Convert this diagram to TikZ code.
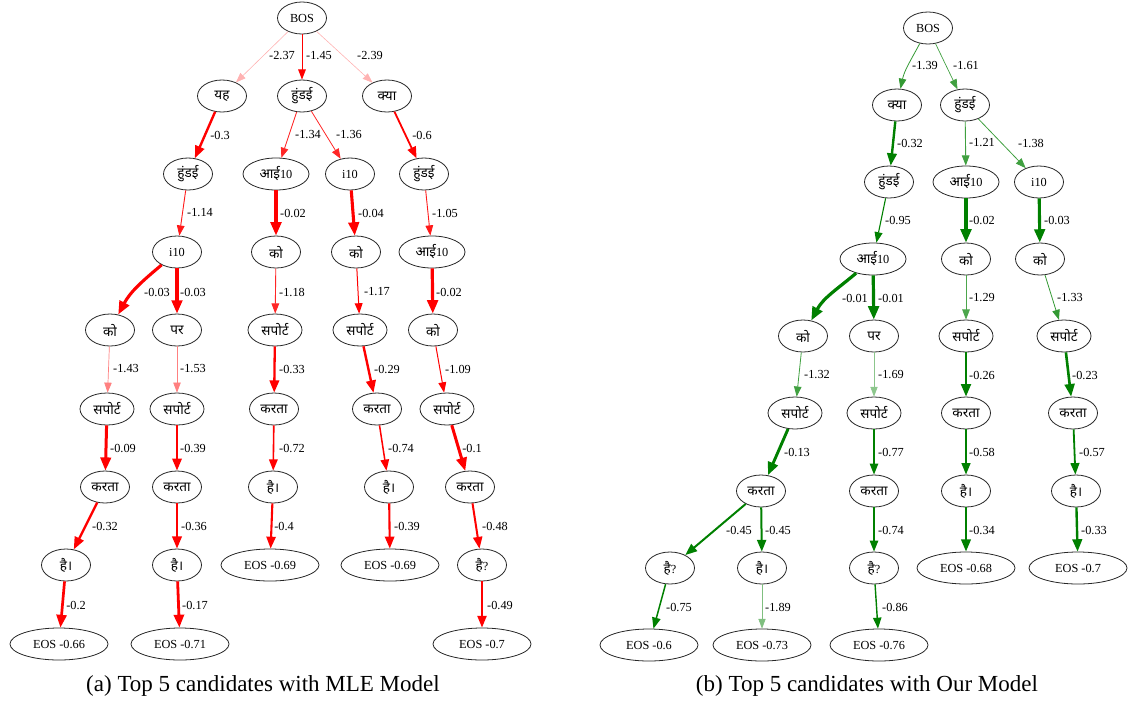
\documentclass[tikz,border=0pt]{standalone}
\usepackage{fontspec}
\setmainfont{Liberation Serif}
\newfontfamily\dvnfont[Script=Devanagari,Scale=1.1]{Noto Sans}
\newcommand\hin[1]{{\dvnfont #1}}
\usetikzlibrary{shapes.geometric,arrows.meta}
\definecolor{gc}{HTML}{008000}
\begin{document}
\begin{tikzpicture}[x=1pt,y=-1pt,
 nd/.style={ellipse, draw=black!85, line width=0.8pt, minimum width=49pt, minimum height=32pt, inner sep=0pt, font=\fontsize{12.3}{14}\selectfont},
 wide/.style={minimum width=66pt},
 sp/.style={minimum width=54pt},
 eos/.style={minimum width=98pt},
 lbl/.style={font=\fontsize{12.3}{14}\selectfont, inner sep=0pt},
 ed/.style 2 args={draw=#2, line width=#1, -{Triangle[length=9pt 1.4, width=6.5pt 1.3]}},
 captext/.style={font=\fontsize{23}{26}\selectfont, inner sep=0pt}]
\useasboundingbox (0,0) rectangle (1129,704);
% ---------------- left tree (MLE) ----------------
\node[nd] (L0) at (302,18) {BOS};
\node[nd] (L1a) at (222,96) {\hin{यह}};
\node[nd] (L1b) at (302,96) {\hin{हुंडई}};
\node[nd] (L1c) at (387,96) {\hin{क्या}};
\node[nd] (L2a) at (188,174) {\hin{हुंडई}};
\node[nd,wide] (L2b) at (276,174) {\hin{आई}10};
\node[nd] (L2c) at (350,174) {i10};
\node[nd] (L2d) at (424,174) {\hin{हुंडई}};
\node[nd] (L3a) at (177,252) {i10};
\node[nd] (L3b) at (276,252) {\hin{को}};
\node[nd] (L3c) at (356,252) {\hin{को}};
\node[nd,wide] (L3d) at (432,252) {\hin{आई}10};
\node[nd] (L4a) at (110,330) {\hin{को}};
\node[nd] (L4b) at (177,330) {\hin{पर}};
\node[nd,sp] (L4c) at (275,330) {\hin{सपोर्ट}};
\node[nd,sp] (L4d) at (360,330) {\hin{सपोर्ट}};
\node[nd] (L4e) at (433,330) {\hin{को}};
\node[nd,sp] (L5a) at (107,409) {\hin{सपोर्ट}};
\node[nd,sp] (L5b) at (177,409) {\hin{सपोर्ट}};
\node[nd] (L5c) at (274,409) {\hin{करता}};
\node[nd] (L5d) at (377,409) {\hin{करता}};
\node[nd,sp] (L5e) at (447,409) {\hin{सपोर्ट}};
\node[nd] (L6a) at (105,487) {\hin{करता}};
\node[nd] (L6b) at (177,487) {\hin{करता}};
\node[nd] (L6c) at (273,487) {\hin{है।}};
\node[nd] (L6d) at (389,487) {\hin{है।}};
\node[nd] (L6e) at (470,487) {\hin{करता}};
\node[nd] (L7a) at (66,565) {\hin{है।}};
\node[nd] (L7b) at (177,565) {\hin{है।}};
\node[nd,eos] (L7c) at (270,565) {EOS -0.69};
\node[nd,eos] (L7d) at (390,565) {EOS -0.69};
\node[nd] (L7e) at (482,565) {\hin{है}?};
\node[nd,eos] (L8a) at (59,644) {EOS -0.66};
\node[nd,eos] (L8b) at (180,644) {EOS -0.71};
\node[nd,eos] (L8c) at (482,644) {EOS -0.7};
% edges
\draw[ed={0.6pt}{red!30}] (L0) -- (L1a);
\draw[ed={0.9pt}{red}] (L0) -- (L1b);
\draw[ed={0.6pt}{red!30}] (L0) -- (L1c);
\draw[ed={2.4pt}{red}] (L1a) -- (L2a);
\draw[ed={0.8pt}{red!85}] (L1b) -- (L2b);
\draw[ed={0.8pt}{red!85}] (L1b) -- (L2c);
\draw[ed={1.8pt}{red}] (L1c) -- (L2d);
\draw[ed={0.9pt}{red!90}] (L2a) -- (L3a);
\draw[ed={3.2pt}{red}] (L2b) -- (L3b);
\draw[ed={3.1pt}{red}] (L2c) -- (L3c);
\draw[ed={0.9pt}{red!90}] (L2d) -- (L3d);
\draw[ed={3.1pt}{red}] (L3a) to[out=-140,in=62] (L4a);
\draw[ed={3.1pt}{red}] (L3a) -- (L4b);
\draw[ed={0.9pt}{red!85}] (L3b) -- (L4c);
\draw[ed={1.0pt}{red}] (L3c) -- (L4d);
\draw[ed={3.2pt}{red}] (L3d) -- (L4e);
\draw[ed={0.7pt}{red!50}] (L4a) -- (L5a);
\draw[ed={0.7pt}{red!50}] (L4b) -- (L5b);
\draw[ed={2.3pt}{red}] (L4c) -- (L5c);
\draw[ed={2.4pt}{red}] (L4d) -- (L5d);
\draw[ed={1.0pt}{red}] (L4e) -- (L5e);
\draw[ed={3.0pt}{red}] (L5a) -- (L6a);
\draw[ed={2.2pt}{red}] (L5b) -- (L6b);
\draw[ed={1.6pt}{red}] (L5c) -- (L6c);
\draw[ed={1.5pt}{red}] (L5d) -- (L6d);
\draw[ed={3.0pt}{red}] (L5e) -- (L6e);
\draw[ed={2.4pt}{red}] (L6a) -- (L7a);
\draw[ed={2.3pt}{red}] (L6b) -- (L7b);
\draw[ed={2.1pt}{red}] (L6c) -- (L7c);
\draw[ed={2.1pt}{red}] (L6d) -- (L7d);
\draw[ed={2.0pt}{red}] (L6e) -- (L7e);
\draw[ed={2.7pt}{red}] (L7a) -- (L8a);
\draw[ed={2.8pt}{red}] (L7b) -- (L8b);
\draw[ed={2.0pt}{red}] (L7e) -- (L8c);
% labels
\node[lbl] (la1) at (282,56) {-2.37};
\node[lbl] (la2) at (319,56) {-1.45};
\node[lbl] (la3) at (370,56) {-2.39};
\node[lbl] (lb1) at (220,135) {-0.3};
\node[lbl] (lb2) at (308,135) {-1.34};
\node[lbl] (lb3) at (349,135) {-1.36};
\node[lbl] (lb4) at (422,135) {-0.6};
\node[lbl] (lc1) at (200,213) {-1.14};
\node[lbl] (lc2) at (293,213) {-0.02};
\node[lbl] (lc3) at (371,213) {-0.04};
\node[lbl] (lc4) at (445,213) {-1.05};
\node[lbl] (ld1) at (157,292) {-0.03};
\node[lbl] (ld2) at (193,292) {-0.03};
\node[lbl] (ld3) at (292,292) {-1.18};
\node[lbl] (ld4) at (377,292) {-1.17};
\node[lbl] (ld5) at (449,292) {-0.02};
\node[lbl] (le1) at (126,369) {-1.43};
\node[lbl] (le2) at (193,369) {-1.53};
\node[lbl] (le3) at (292,369) {-0.33};
\node[lbl] (le4) at (387,369) {-0.29};
\node[lbl] (le5) at (458,369) {-1.09};
\node[lbl] (lf1) at (123,448) {-0.09};
\node[lbl] (lf2) at (193,448) {-0.39};
\node[lbl] (lf3) at (292,448) {-0.72};
\node[lbl] (lf4) at (401,448) {-0.74};
\node[lbl] (lf5) at (472,448) {-0.1};
\node[lbl] (lg1) at (105,526) {-0.32};
\node[lbl] (lg2) at (194,526) {-0.36};
\node[lbl] (lg3) at (284,526) {-0.4};
\node[lbl] (lg4) at (407,526) {-0.39};
\node[lbl] (lg5) at (495,526) {-0.48};
\node[lbl] (lh1) at (76,605) {-0.2};
\node[lbl] (lh2) at (195,605) {-0.17};
\node[lbl] (lh3) at (500,605) {-0.49};
\node[captext] (capa) at (263,686) {(a) Top 5 candidates with MLE Model};
% ---------------- right tree (Our model) ----------------
\node[nd] (R0) at (928,28) {BOS};
\node[nd] (R1a) at (897,105) {\hin{क्या}};
\node[nd] (R1b) at (965,105) {\hin{हुंडई}};
\node[nd] (R2a) at (889,182) {\hin{हुंडई}};
\node[nd,wide] (R2b) at (966,182) {\hin{आई}10};
\node[nd] (R2c) at (1039,182) {i10};
\node[nd,wide] (R3a) at (873,259) {\hin{आई}10};
\node[nd] (R3b) at (966,259) {\hin{को}};
\node[nd] (R3c) at (1040,259) {\hin{को}};
\node[nd] (R4a) at (803,336) {\hin{को}};
\node[nd] (R4b) at (874,336) {\hin{पर}};
\node[nd,sp] (R4c) at (966,336) {\hin{सपोर्ट}};
\node[nd,sp] (R4d) at (1064,336) {\hin{सपोर्ट}};
\node[nd,sp] (R5a) at (795,413) {\hin{सपोर्ट}};
\node[nd,sp] (R5b) at (874,413) {\hin{सपोर्ट}};
\node[nd] (R5c) at (966,413) {\hin{करता}};
\node[nd] (R5d) at (1073,413) {\hin{करता}};
\node[nd] (R6a) at (761,491) {\hin{करता}};
\node[nd] (R6b) at (874,491) {\hin{करता}};
\node[nd] (R6c) at (966,491) {\hin{है।}};
\node[nd] (R6d) at (1076,491) {\hin{है।}};
\node[nd] (R7a) at (670,568) {\hin{है}?};
\node[nd] (R7b) at (762,568) {\hin{है।}};
\node[nd] (R7c) at (874,568) {\hin{है}?};
\node[nd,eos] (R7d) at (966,568) {EOS -0.68};
\node[nd,eos] (R7e) at (1078,568) {EOS -0.7};
\node[nd,eos] (R8a) at (649,645) {EOS -0.6};
\node[nd,eos] (R8b) at (762,645) {EOS -0.73};
\node[nd,eos] (R8c) at (879,645) {EOS -0.76};
% edges
\draw[ed={0.8pt}{gc!80}] (R0) to[out=-118,in=78] (R1a);
\draw[ed={0.7pt}{gc!75}] (R0) -- (R1b);
\draw[ed={2.4pt}{gc}] (R1a) -- (R2a);
\draw[ed={0.9pt}{gc!75}] (R1b) -- (R2b);
\draw[ed={0.8pt}{gc!75}] (R1b) -- (R2c);
\draw[ed={1.1pt}{gc}] (R2a) -- (R3a);
\draw[ed={3.2pt}{gc}] (R2b) -- (R3b);
\draw[ed={3.1pt}{gc}] (R2c) -- (R3c);
\draw[ed={3.2pt}{gc}] (R3a) to[out=-140,in=62] (R4a);
\draw[ed={3.2pt}{gc}] (R3a) -- (R4b);
\draw[ed={0.8pt}{gc!70}] (R3b) -- (R4c);
\draw[ed={0.8pt}{gc!80}] (R3c) -- (R4d);
\draw[ed={0.8pt}{gc!75}] (R4a) -- (R5a);
\draw[ed={0.6pt}{gc!45}] (R4b) -- (R5b);
\draw[ed={2.5pt}{gc}] (R4c) -- (R5c);
\draw[ed={2.6pt}{gc}] (R4d) -- (R5d);
\draw[ed={2.9pt}{gc}] (R5a) -- (R6a);
\draw[ed={1.5pt}{gc}] (R5b) -- (R6b);
\draw[ed={1.8pt}{gc}] (R5c) -- (R6c);
\draw[ed={1.8pt}{gc}] (R5d) -- (R6d);
\draw[ed={2.0pt}{gc}] (R6a) -- (R7a);
\draw[ed={2.0pt}{gc}] (R6a) -- (R7b);
\draw[ed={1.5pt}{gc}] (R6b) -- (R7c);
\draw[ed={2.3pt}{gc}] (R6c) -- (R7d);
\draw[ed={2.4pt}{gc}] (R6d) -- (R7e);
\draw[ed={1.5pt}{gc}] (R7a) -- (R8a);
\draw[ed={0.6pt}{gc!50}] (R7b) -- (R8b);
\draw[ed={1.4pt}{gc}] (R7c) -- (R8c);
% labels
\node[lbl] (ra1) at (925,66) {-1.39};
\node[lbl] (ra2) at (966,66) {-1.61};
\node[lbl] (rb1) at (910,143) {-0.32};
\node[lbl] (rb2) at (982,143) {-1.21};
\node[lbl] (rb3) at (1031,143) {-1.38};
\node[lbl] (rc1) at (898,220) {-0.95};
\node[lbl] (rc2) at (982,220) {-0.02};
\node[lbl] (rc3) at (1057,220) {-0.03};
\node[lbl] (rd1) at (855,298) {-0.01};
\node[lbl] (rd2) at (891,298) {-0.01};
\node[lbl] (rd3) at (982,298) {-1.29};
\node[lbl] (rd4) at (1070,298) {-1.33};
\node[lbl] (re1) at (817,375) {-1.32};
\node[lbl] (re2) at (891,375) {-1.69};
\node[lbl] (re3) at (982,375) {-0.26};
\node[lbl] (re4) at (1085,375) {-0.23};
\node[lbl] (rf1) at (797,452) {-0.13};
\node[lbl] (rf2) at (891,452) {-0.77};
\node[lbl] (rf3) at (982,452) {-0.58};
\node[lbl] (rf4) at (1092,452) {-0.57};
\node[lbl] (rg1) at (739,530) {-0.45};
\node[lbl] (rg2) at (778,530) {-0.45};
\node[lbl] (rg3) at (891,530) {-0.74};
\node[lbl] (rg4) at (982,530) {-0.34};
\node[lbl] (rg5) at (1094,530) {-0.33};
\node[lbl] (rh1) at (679,607) {-0.75};
\node[lbl] (rh2) at (778,607) {-1.89};
\node[lbl] (rh3) at (895,607) {-0.86};
\node[captext] (capb) at (867,686) {(b) Top 5 candidates with Our Model};
\end{tikzpicture}
\end{document}
